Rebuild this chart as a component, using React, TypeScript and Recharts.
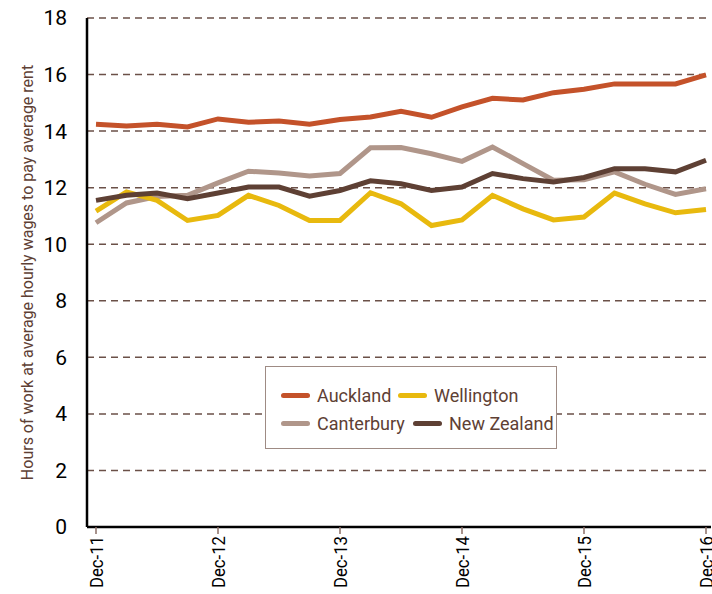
import React from 'react';
import { LineChart, Line, XAxis, YAxis, CartesianGrid } from 'recharts';

const quarters = [
  'Dec-11', 'Mar-12', 'Jun-12', 'Sep-12', 'Dec-12', 'Mar-13', 'Jun-13', 'Sep-13', 'Dec-13',
  'Mar-14', 'Jun-14', 'Sep-14', 'Dec-14', 'Mar-15', 'Jun-15', 'Sep-15', 'Dec-15',
  'Mar-16', 'Jun-16', 'Sep-16', 'Dec-16',
];
const auckland = [14.24, 14.18, 14.24, 14.15, 14.43, 14.31, 14.36, 14.24, 14.41, 14.5, 14.7, 14.49, 14.86, 15.16, 15.1, 15.36, 15.48, 15.67, 15.67, 15.67, 15.99];
const wellington = [11.17, 11.85, 11.55, 10.84, 11.02, 11.73, 11.37, 10.84, 10.84, 11.82, 11.43, 10.66, 10.86, 11.73, 11.25, 10.86, 10.96, 11.81, 11.43, 11.11, 11.23];
const canterbury = [10.76, 11.46, 11.69, 11.73, 12.17, 12.58, 12.52, 12.41, 12.5, 13.41, 13.42, 13.2, 12.93, 13.44, 12.85, 12.26, 12.28, 12.56, 12.12, 11.76, 11.96];
const newZealand = [11.55, 11.73, 11.81, 11.61, 11.81, 12.02, 12.02, 11.7, 11.9, 12.24, 12.14, 11.9, 12.02, 12.5, 12.32, 12.2, 12.36, 12.67, 12.67, 12.56, 12.97];
const xTicks = ['Dec-11', 'Dec-12', 'Dec-13', 'Dec-14', 'Dec-15', 'Dec-16'];
const yTicks = [0, 2, 4, 6, 8, 10, 12, 14, 16, 18];

const data = quarters.map((q, i) => ({
  q,
  auckland: auckland[i],
  wellington: wellington[i],
  canterbury: canterbury[i],
  nz: newZealand[i],
}));

const FONT = "Roboto, sans-serif";
const BROWN = '#5e4034';

const legendRows = [
  [{ name: 'Auckland', color: '#c4522a' }, { name: 'Wellington', color: '#e8b90e' }],
  [{ name: 'Canterbury', color: '#b0968a' }, { name: 'New Zealand', color: '#5e4034' }],
];
const legendColWidth = [117, 132];

// condensed look: squeeze the glyphs a little along the text direction
const XTick = ({ x, y, payload }: any) => (
  <g transform={`translate(${x},${y}) rotate(-90) scale(0.88,1)`}>
    <text x={0} y={0} dy="0.36em" textAnchor="end" fontSize={19} fontFamily={FONT} fill="#000">
      {payload.value}
    </text>
  </g>
);

const LegendBox = () => (
  <div style={{ position: 'absolute', left: 265, top: 366, width: 290, height: 81, border: '1.5px solid #9e8b84', background: '#fff', fontFamily: FONT, fontSize: 18, color: BROWN }}>
    {legendRows.map((row, r) => (
      <div key={r} style={{ display: 'flex', alignItems: 'center', height: 28, marginTop: r === 0 ? 14 : 0, paddingLeft: 15 }}>
        {row.map((it, k) => (
          <div key={it.name} style={{ display: 'flex', alignItems: 'center', width: k === 0 ? legendColWidth[r] : undefined, whiteSpace: 'nowrap' }}>
            <span style={{ display: 'inline-block', width: 29, height: 5, borderRadius: 3, background: it.color, marginRight: 7 }} />
            <span>{it.name}</span>
          </div>
        ))}
      </div>
    ))}
  </div>
);

export default function App() {
  return (
    <div style={{ position: 'absolute', left: 0, top: 0, width: 712, height: 594, background: '#fff' }}>
      <LineChart width={712} height={594} data={data} margin={{ top: 18, right: 1, bottom: 7, left: 0 }}>
        <CartesianGrid vertical={false} stroke="#6b5048" strokeWidth={1.5} strokeDasharray="7 5" />
        <XAxis
          dataKey="q"
          ticks={xTicks}
          interval={0}
          height={60}
          padding={{ left: 9, right: 5 }}
          axisLine={{ stroke: '#000', strokeWidth: 2.5 }}
          tickLine={{ stroke: '#8a6e66', strokeWidth: 1.5 }}
          tickSize={7}
          tick={<XTick />}
        />
        <YAxis
          domain={[0, 18]}
          ticks={yTicks}
          width={87}
          axisLine={{ stroke: '#000', strokeWidth: 2.5 }}
          tickLine={false}
          tick={{ fill: '#000', fontSize: 21, fontFamily: FONT }}
          tickMargin={14}
          label={{
            value: 'Hours of work at average hourly wages to pay average rent',
            angle: -90,
            position: 'insideLeft',
            dx: 22,
            dy: 0,
            style: { textAnchor: 'middle', fill: BROWN, fontSize: 16, fontFamily: FONT },
          }}
        />
        <YAxis yAxisId="r" orientation="right" width={0} domain={[0, 18]} tick={false} tickLine={false} axisLine={{ stroke: '#000', strokeWidth: 2.5 }} />
        <Line dataKey="canterbury" name="Canterbury" stroke="#b0968a" strokeWidth={5} dot={false} isAnimationActive={false} />
        <Line dataKey="wellington" name="Wellington" stroke="#e8b90e" strokeWidth={5} dot={false} isAnimationActive={false} />
        <Line dataKey="nz" name="New Zealand" stroke="#5e4034" strokeWidth={5} dot={false} isAnimationActive={false} />
        <Line dataKey="auckland" name="Auckland" stroke="#c4522a" strokeWidth={5} dot={false} isAnimationActive={false} />
      </LineChart>
      <LegendBox />
    </div>
  );
}
